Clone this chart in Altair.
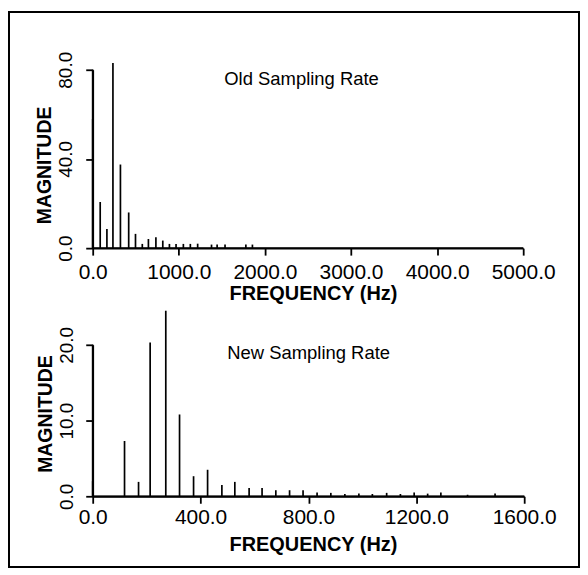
import altair as alt
import pandas as pd

# ---- data ----
old_freq = [0, 87, 165, 235, 322, 418, 497, 576, 647, 734, 814, 891, 968, 1053,
            1134, 1219, 1380, 1445, 1537, 1779, 1855]
old_mag = [58, 20.7, 8.6, 83, 37.5, 16, 6.4, 1.9, 4.1, 4.9, 3.4, 1.9, 1.9, 1.9,
           1.9, 2.0, 1.6, 1.6, 1.6, 1.6, 1.6]

new_freq = [0, 118, 170, 213, 271, 322, 374, 426, 479, 527, 580, 628, 679, 730,
            780, 832, 883, 935, 987, 1037, 1090, 1141, 1192, 1242, 1291, 1390, 1492]
new_mag = [2.0, 7.3, 1.9, 20.3, 24.5, 10.8, 2.65, 3.5, 1.5, 1.9, 1.1, 1.1, 0.8, 0.8,
           0.8, 0.5, 0.45, 0.3, 0.35, 0.3, 0.45, 0.3, 0.5, 0.35, 0.5, 0.2, 0.35]

old_x_ticks = [0, 1000, 2000, 3000, 4000, 5000]
old_y_ticks = [0, 40, 80]
new_x_ticks = [0, 400, 800, 1200, 1600]
new_y_ticks = [0, 10, 20]

old_label = ["Old Sampling Rate"]
new_label = ["New Sampling Rate"]

FONT = "Liberation Sans"

old_df = pd.DataFrame({"freq": old_freq, "mag": old_mag})
new_df = pd.DataFrame({"freq": new_freq, "mag": new_mag})
one = pd.DataFrame({"a": [0]})


def x_axis(values, label_pad, title_pad, title_x):
    return alt.Axis(values=values, format=".1f", title="FREQUENCY (Hz)", grid=False,
                    domain=True, ticks=True,
                    domainColor="black", domainWidth=1.8, tickColor="black",
                    tickWidth=1.8, tickSize=7, labelFont=FONT, labelFontSize=21,
                    labelColor="black", labelPadding=label_pad, labelFlush=False,
                    labelOverlap=False, titleFont=FONT, titleFontSize=20,
                    titleFontWeight="bold", titleColor="black",
                    titlePadding=title_pad, titleX=title_x)


def y_axis(values, label_pad, title_pad, title_y):
    return alt.Axis(values=values, format=".1f", title="MAGNITUDE", grid=False,
                    domain=True, ticks=True,
                    domainColor="black", domainWidth=1.8, tickColor="black",
                    tickWidth=1.8, tickSize=7, labelFont=FONT, labelFontSize=19,
                    labelColor="black", labelAngle=-90, labelPadding=label_pad,
                    labelFlush=False, labelOverlap=False, titleFont=FONT,
                    titleFontSize=19.5, titleFontWeight="bold", titleColor="black",
                    titlePadding=title_pad, titleY=title_y)


def axis_lines(xmax, ymax):
    xl = alt.Chart(one).mark_rule(color="black", strokeWidth=1.8).encode(
        x=alt.datum(0), x2=alt.datum(xmax), y=alt.datum(0))
    yl = alt.Chart(one).mark_rule(color="black", strokeWidth=1.8).encode(
        x=alt.datum(0), y=alt.datum(0), y2=alt.datum(ymax))
    return xl, yl


top_stems = alt.Chart(old_df).mark_rule(color="black", strokeWidth=1.7).encode(
    x=alt.X("freq:Q", scale=alt.Scale(domain=[0, 5000], nice=False, zero=False),
            axis=x_axis(old_x_ticks, 6, 2, 221)),
    y=alt.Y("mag:Q", scale=alt.Scale(domain=[0, 80], nice=False),
            axis=y_axis(old_y_ticks, 10, 2, 95.5)),
    y2=alt.datum(0),
)

top_text = alt.Chart(pd.DataFrame({"t": old_label})).mark_text(
    align="left", baseline="middle", font=FONT, fontSize=18.5, color="black"
).encode(text="t:N", x=alt.value(132), y=alt.value(9))

frame = alt.Chart(one).mark_rect(
    fillOpacity=0, stroke="black", strokeWidth=2
).encode(x=alt.value(-84), x2=alt.value(488), y=alt.value(-58), y2=alt.value(499))

txl, tyl = axis_lines(old_x_ticks[-1], old_y_ticks[-1])
top = alt.layer(frame, top_stems, txl, tyl, top_text).properties(width=432, height=179)

bottom_stems = alt.Chart(new_df).mark_rule(color="black", strokeWidth=1.7).encode(
    x=alt.X("freq:Q", scale=alt.Scale(domain=[0, 1600], nice=False, zero=False),
            axis=x_axis(new_x_ticks, 3, 7, 221)),
    y=alt.Y("mag:Q", scale=alt.Scale(domain=[0, 20], nice=False),
            axis=y_axis(new_y_ticks, 9, 2, 69)),
    y2=alt.datum(0),
)

bottom_text = alt.Chart(pd.DataFrame({"t": new_label})).mark_text(
    align="left", baseline="middle", font=FONT, fontSize=18.5, color="black"
).encode(text="t:N", x=alt.value(135), y=alt.value(8))

bxl, byl = axis_lines(new_x_ticks[-1], new_y_ticks[-1])
bottom = alt.layer(bottom_stems, bxl, byl, bottom_text).properties(width=433, height=152)

chart = alt.vconcat(top, bottom, spacing=97, bounds="flush").properties(
    padding={"left": 0, "top": 2, "right": 0, "bottom": 0},
    background="white",
).configure_view(strokeWidth=0, stroke="transparent")

chart.save("out.html", embed_options={"renderer": "svg", "actions": False})
